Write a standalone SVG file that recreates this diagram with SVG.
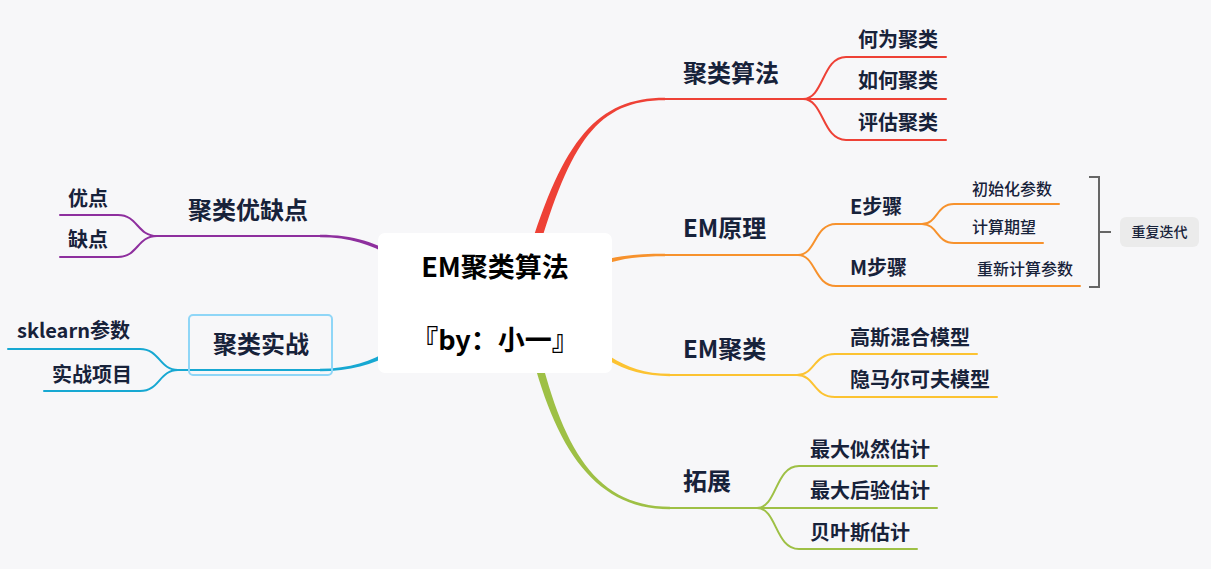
<svg xmlns="http://www.w3.org/2000/svg" width="1211" height="569" viewBox="0 0 1211 569">
<style>
text{font-family:"Noto Sans CJK SC","Noto Sans",sans-serif;fill:#17223a}
.c{font-size:27px;font-weight:700;text-anchor:middle;fill:#000}
.t{font-size:24px;font-weight:700}
.s{font-size:20px;font-weight:700}
.l{font-size:16px;font-weight:500}
.n{font-size:14px;font-weight:500}
.ln{fill:none;stroke-width:2;stroke-linecap:round}
.red{stroke:#ee4136}.rf{fill:#ee4136}
.org{stroke:#f7922d}.of{fill:#f7922d}
.yel{stroke:#fcc332}.yf{fill:#fcc332}
.grn{stroke:#9ec045}.gf{fill:#9ec045}
.pur{stroke:#8e2f9e}.pf{fill:#8e2f9e}
.cyn{stroke:#17a8d2}.cf{fill:#17a8d2}
</style>
<rect width="1211" height="569" fill="#f7f7f9"/>
<g id="connectors">
<!-- red -->
<path class="rf" d="M515.6 299 C555.6 149 590 97.7 665 97.7 L665 100.3 C590 100.3 564.4 151 524.4 301 Z"/>
<path class="ln red" d="M664 99 L803 99 M803 99 C824 99 822 57 846 57 L946 57 M803 99 L946 99 M803 99 C824 99 822 140 846 140 L946 140"/>
<!-- orange -->
<path class="of" d="M557.6 287.4 C587.6 259.4 615 253.8 665 253.8 L665 256.2 C615 256.2 592.4 264.6 562.4 292.6 Z"/>
<path class="ln org" d="M664 255 L798 255 M798 255 C816 255 814 224 836 224 L922 224 M798 255 C816 255 814 286 836 286 L1080 286 M922 224 C938 224 936 204 954 204 L1059 204 M922 224 C938 224 936 243 954 243 L1043 243"/>
<!-- yellow -->
<path class="yf" d="M562.4 315.4 C597.4 347.4 620 373.8 670 373.8 L670 376.2 C620 376.2 592.6 352.6 557.6 320.6 Z"/>
<path class="ln yel" d="M669 375 L797 375 M797 375 C815 375 813 354 835 354 L977 354 M797 375 C815 375 813 397 835 397 L997 397"/>
<!-- green -->
<path class="gf" d="M533.9 329.1 C558.9 439.1 590 506.8 670 506.8 L670 509.2 C590 509.2 551.1 440.9 526.1 330.9 Z"/>
<path class="ln grn" d="M669 508 L757 508 M757 508 C777 508 775 466 799 466 L937 466 M757 508 L937 508 M757 508 C777 508 775 549 799 549 L917 549"/>
<!-- purple -->
<path class="pf" d="M437.4 297.3 C407.4 267.3 380 237.2 320 237.2 L320 234.8 C380 234.8 412.6 262.7 442.6 292.7 Z"/>
<path class="ln pur" d="M321 236 L157 236 M157 236 C137 236 138 215 118 215 L60 215 M157 236 C137 236 138 257 118 257 L60 257"/>
<!-- cyan -->
<path class="cf" d="M442.2 317.7 C412.2 342.7 380 371.2 320 371.2 L320 368.8 C380 368.8 407.8 337.3 437.8 312.3 Z"/>
<path class="ln cyn" d="M321 370 L178 370 M178 370 C159 370 160 349 140 349 L8 349 M178 370 C159 370 160 391 140 391 L44 391"/>
<!-- bracket -->
<path d="M1089 177 L1099 177 L1099 287 L1089 287 M1099 232 L1111 232" fill="none" stroke="#666" stroke-width="2"/>
</g>
<g id="root">
<rect x="378" y="233" width="234" height="140" rx="7" fill="#fff"/>
<text class="c" x="495" y="277">EM聚类算法</text>
<text class="c" x="495" y="350">『by：小一』</text>
</g>
<g id="t-julei"><text class="t" x="683" y="82">聚类算法</text></g>
<g id="n-hewei"><text class="s" x="858" y="47">何为聚类</text></g>
<g id="n-ruhe"><text class="s" x="858" y="88">如何聚类</text></g>
<g id="n-pinggu"><text class="s" x="858" y="130">评估聚类</text></g>
<g id="t-em"><text class="t" x="683" y="237">EM原理</text></g>
<g id="n-e"><text class="s" x="850" y="214">E步骤</text></g>
<g id="n-m"><text class="s" x="850" y="275">M步骤</text></g>
<g id="n-init"><text class="l" x="972" y="195">初始化参数</text></g>
<g id="n-exp"><text class="l" x="972" y="233">计算期望</text></g>
<g id="n-recalc"><text class="l" x="977" y="275">重新计算参数</text></g>
<g id="n-repeat">
<rect x="1120" y="217" width="79" height="30" rx="6" fill="#ebebeb"/>
<text class="n" x="1159.5" y="237" text-anchor="middle">重复迭代</text>
</g>
<g id="t-emjl"><text class="t" x="683" y="358">EM聚类</text></g>
<g id="n-gmm"><text class="s" x="850" y="345">高斯混合模型</text></g>
<g id="n-hmm"><text class="s" x="850" y="387">隐马尔可夫模型</text></g>
<g id="t-tz"><text class="t" x="683" y="490">拓展</text></g>
<g id="n-mle"><text class="s" x="810" y="457">最大似然估计</text></g>
<g id="n-map"><text class="s" x="810" y="498">最大后验估计</text></g>
<g id="n-bayes"><text class="s" x="810" y="540">贝叶斯估计</text></g>
<g id="t-yq"><text class="t" x="188" y="219">聚类优缺点</text></g>
<g id="n-you"><text class="s" x="68" y="206">优点</text></g>
<g id="n-que"><text class="s" x="68" y="247">缺点</text></g>
<g id="t-sz">
<rect x="189" y="315" width="143" height="60" rx="4" fill="none" stroke="#8fd6f7" stroke-width="2"/>
<text class="t" x="213" y="353">聚类实战</text>
</g>
<g id="n-sk"><text class="s" x="17" y="338">sklearn参数</text></g>
<g id="n-xm"><text class="s" x="52" y="382">实战项目</text></g>
</svg>
